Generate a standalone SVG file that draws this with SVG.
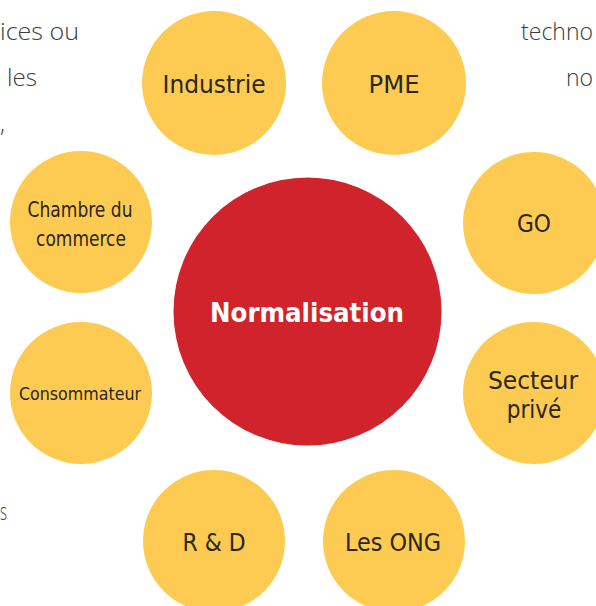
<svg xmlns="http://www.w3.org/2000/svg" width="596" height="606" viewBox="0 0 596 606">
<style>
.bg{font-family:"Open Sans","Liberation Sans",sans-serif;font-weight:300;font-size:23px;fill:#3c3c3c}
.sat{fill:#FDCB51}
.lbl{font-family:"DejaVu Sans Condensed","Liberation Sans",sans-serif;font-size:24px;fill:#2a2620;text-anchor:middle}
.core{fill:#D0232B}
.corelbl{font-family:"DejaVu Sans Condensed","Liberation Sans",sans-serif;font-weight:bold;font-size:26px;fill:#ffffff;text-anchor:middle}
</style>
<rect width="596" height="606" fill="#ffffff"/>
<g id="page-text">
<text class="bg" x="0" y="40" textLength="79" lengthAdjust="spacingAndGlyphs">ices ou</text>
<text class="bg" x="7" y="86" textLength="30" lengthAdjust="spacingAndGlyphs">les</text>
<text class="bg" x="0" y="132">,</text>
<text class="bg" x="0" y="520" textLength="7" lengthAdjust="spacingAndGlyphs">s</text>
<text class="bg" x="593" y="40" style="text-anchor:end">techno</text>
<text class="bg" x="593" y="86" style="text-anchor:end">no</text>
</g>
<g id="connectors"></g>
<g id="industrie"><circle class="sat" cx="214" cy="83" r="72"/><text class="lbl" x="214" y="93" textLength="103" lengthAdjust="spacingAndGlyphs">Industrie</text></g>
<g id="pme"><circle class="sat" cx="394" cy="83" r="72"/><text class="lbl" x="394" y="93" textLength="51" lengthAdjust="spacingAndGlyphs">PME</text></g>
<g id="chambre"><circle class="sat" cx="81" cy="222" r="71"/><text class="lbl" x="80" y="217" style="font-size:22px" textLength="105" lengthAdjust="spacingAndGlyphs">Chambre du</text><text class="lbl" x="81" y="246" style="font-size:22px" textLength="90" lengthAdjust="spacingAndGlyphs">commerce</text></g>
<g id="go"><circle class="sat" cx="534" cy="223" r="71"/><text class="lbl" x="534" y="232" textLength="34" lengthAdjust="spacingAndGlyphs">GO</text></g>
<g id="consommateur"><circle class="sat" cx="81" cy="393" r="71"/><text class="lbl" x="80" y="400" style="font-size:17px" textLength="122" lengthAdjust="spacingAndGlyphs">Consommateur</text></g>
<g id="secteur"><circle class="sat" cx="534" cy="393" r="71"/><text class="lbl" x="533" y="389" textLength="90" lengthAdjust="spacingAndGlyphs">Secteur</text><text class="lbl" x="534" y="418">privé</text></g>
<g id="rd"><circle class="sat" cx="214" cy="541" r="71"/><text class="lbl" x="214" y="551" textLength="63" lengthAdjust="spacingAndGlyphs">R &amp; D</text></g>
<g id="ong"><circle class="sat" cx="394" cy="541" r="71"/><text class="lbl" x="393" y="551" textLength="96" lengthAdjust="spacingAndGlyphs">Les ONG</text></g>
<g id="normalisation"><circle class="core" cx="307.5" cy="311.5" r="134"/><text class="corelbl" x="307" y="322" textLength="194" lengthAdjust="spacingAndGlyphs">Normalisation</text></g>
</svg>
